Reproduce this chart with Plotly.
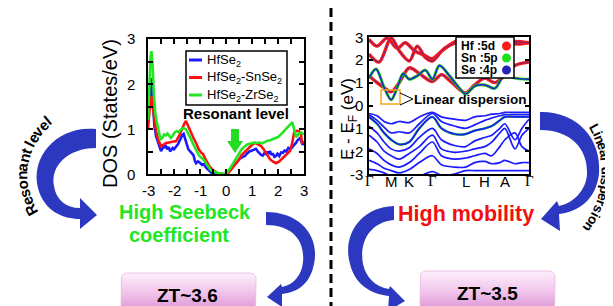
import math
import plotly.graph_objects as go

W, H = 613, 306
FONT = "Liberation Sans, Arial, sans-serif"

# ---------------- DOS data (States/eV) ----------------
E_blue = [-3.0,-2.95,-2.9,-2.88,-2.85,-2.8,-2.75,-2.69,-2.62,-2.55,-2.5,-2.45,-2.4,-2.35,-2.31,-2.26,-2.2,-2.15,-2.1,-2.05,-2.0,-1.92,-1.85,-1.75,-1.68,-1.63,-1.58,-1.52,-1.45,-1.38,-1.32,-1.25,-1.2,-1.15,-1.08,-1.0,-0.92,-0.85,-0.78,-0.7,-0.62,-0.55,-0.45,0.0,0.1,0.2,0.3,0.38,0.45,0.55,0.65,0.73,0.8,0.9,1.0,1.08,1.15,1.22,1.3,1.36,1.42,1.48,1.55,1.6,1.65,1.69,1.75,1.8,1.86,1.92,1.98,2.05,2.12,2.19,2.25,2.32,2.4,2.5,2.58,2.65,2.69,2.75,2.8,2.85,2.9,2.95,3.0]
dos_blue = [1.2,1.7,2.1,2.13,1.9,1.4,1.05,0.84,0.7,0.58,0.51,0.56,0.62,0.6,0.62,0.55,0.6,0.5,0.53,0.58,0.55,0.62,0.66,0.78,0.87,0.89,0.8,0.68,0.55,0.5,0.45,0.42,0.3,0.24,0.28,0.25,0.2,0.22,0.15,0.1,0.05,0.02,0.0,0.0,0.05,0.12,0.18,0.24,0.3,0.35,0.38,0.4,0.45,0.5,0.52,0.55,0.56,0.5,0.45,0.42,0.41,0.47,0.44,0.5,0.45,0.51,0.42,0.46,0.38,0.4,0.45,0.4,0.48,0.47,0.52,0.5,0.58,0.56,0.62,0.66,0.69,0.75,0.78,0.8,0.72,0.65,0.7]

E_red = [-3.0,-2.95,-2.9,-2.87,-2.82,-2.76,-2.69,-2.6,-2.5,-2.4,-2.31,-2.2,-2.12,-2.0,-1.92,-1.8,-1.7,-1.6,-1.54,-1.48,-1.4,-1.35,-1.25,-1.15,-1.05,-0.95,-0.88,-0.78,-0.65,-0.5,-0.35,-0.2,0.05,0.2,0.38,0.5,0.6,0.7,0.77,0.9,1.0,1.12,1.2,1.35,1.45,1.55,1.69,1.8,1.92,2.05,2.19,2.3,2.46,2.55,2.62,2.7,2.8,2.88,2.92,3.0]
dos_red = [1.0,1.4,1.7,1.73,1.5,1.2,0.95,0.75,0.62,0.65,0.69,0.7,0.71,0.72,0.73,0.85,1.0,1.12,1.18,1.1,1.0,0.91,0.8,0.69,0.55,0.47,0.44,0.32,0.18,0.08,0.03,0.0,0.0,0.1,0.22,0.32,0.42,0.48,0.51,0.6,0.65,0.69,0.66,0.62,0.55,0.45,0.33,0.28,0.24,0.28,0.36,0.42,0.51,0.7,0.92,0.96,0.95,0.9,0.7,0.72]

E_green = [-3.0,-2.95,-2.9,-2.87,-2.82,-2.78,-2.72,-2.66,-2.6,-2.55,-2.5,-2.45,-2.38,-2.31,-2.25,-2.18,-2.12,-2.05,-1.98,-1.9,-1.82,-1.75,-1.65,-1.55,-1.45,-1.35,-1.25,-1.15,-1.05,-0.95,-0.88,-0.78,-0.68,-0.58,-0.45,-0.3,-0.1,0.0,0.15,0.3,0.4,0.5,0.6,0.7,0.8,0.9,1.0,1.1,1.2,1.3,1.4,1.5,1.6,1.7,1.8,1.9,2.0,2.1,2.2,2.3,2.4,2.5,2.55,2.6,2.65,2.7,2.75,2.8,2.9,3.0]
dos_green = [1.2,2.0,2.6,2.73,2.4,1.8,1.35,1.15,0.95,0.85,0.78,0.8,0.88,0.86,0.9,0.84,0.8,0.85,0.92,0.95,0.93,0.98,1.02,1.0,0.9,0.78,0.65,0.52,0.42,0.36,0.33,0.25,0.15,0.08,0.05,0.02,0.0,0.0,0.12,0.25,0.35,0.45,0.55,0.6,0.65,0.67,0.68,0.7,0.69,0.7,0.68,0.72,0.74,0.75,0.78,0.8,0.82,0.87,0.93,1.0,1.05,1.12,1.15,1.05,0.9,0.82,0.85,0.9,0.92,0.88]

dos_names = ["HfSe<sub>2</sub>", "HfSe<sub>2</sub>-SnSe<sub>2</sub>", "HfSe<sub>2</sub>-ZrSe<sub>2</sub>"]
dos_colors = ["#1a1aff", "#ff1010", "#22e622"]
dos_xticks = [-3, -2, -1, 0, 1, 2, 3]
dos_yticks = [0, 1, 2, 3]

# ---------------- band structure (E - E_F, eV) ----------------
kpos = [0, 22, 40, 63, 96, 115, 135, 159]
klabels = ["Γ", "M", "K", "Γ", "L", "H", "A", "Γ"]
band_yticks = [-3, -2, -1, 0, 1, 2, 3]

cb_top1_k = [0, 8, 18, 28, 36, 45, 55, 63, 70, 80, 90, 98]
cb_top1_E = [2.9, 2.6, 2.95, 2.5, 2.75, 2.4, 2.2, 2.05, 2.3, 2.65, 2.9, 3.05]
cb_top2_k = [0, 10, 22, 30, 40, 48, 56, 63, 75, 90, 105, 115, 125, 135, 145, 159]
cb_top2_E = [2.25, 1.9, 2.95, 2.4, 1.95, 2.6, 2.1, 1.95, 2.5, 2.75, 2.2, 2.0, 2.3, 2.85, 2.7, 2.75]
cb_mid_k = [0, 8, 16, 22, 30, 40, 50, 63, 72, 80, 90, 96, 105, 115, 125, 135, 145, 159]
cb_mid_E = [1.3, 1.0, 0.75, 0.6, 1.0, 1.65, 1.4, 1.05, 1.35, 1.1, 0.7, 0.55, 0.9, 1.2, 1.0, 1.3, 1.75, 1.9]
cb_low_k = [0, 7, 15, 22, 29, 34, 40, 48, 56, 63, 70, 80, 90, 96, 105, 115, 125, 135, 145, 159]
cb_low_E = [1.2, 1.6, 0.8, 0.25, 0.9, 1.4, 1.15, 1.3, 1.55, 1.15, 1.75, 1.3, 0.75, 0.5, 0.85, 0.9, 0.75, 1.35, 1.2, 1.15]
cb_right_k = [96, 105, 115, 125, 135, 145, 159]
cb_right_E = [1.7, 2.1, 2.5, 2.9, 2.75, 2.8, 2.75]

vb_k = [0, 8, 15, 22, 30, 40, 50, 63, 72, 85, 96, 105, 115, 122, 130, 135, 145, 152, 159]
vb_1 = [-0.35, -0.45, -0.7, -0.8, -0.7, -0.75, -0.5, -0.3, -0.5, -0.6, -0.65, -0.5, -0.45, -0.38, -0.35, -0.3, -0.3, -0.3, -0.3]
vb_2 = [-0.4, -0.65, -0.95, -1.2, -1.15, -1.2, -0.8, -0.35, -0.7, -0.9, -1.0, -0.85, -0.65, -0.55, -0.45, -0.4, -0.4, -0.4, -0.4]
vb_3 = [-0.5, -0.8, -1.2, -1.5, -1.7, -1.6, -1.0, -0.5, -1.0, -1.25, -1.25, -1.1, -1.0, -0.9, -0.65, -0.5, -0.5, -0.5, -0.5]
vb_4 = [-0.9, -1.2, -1.6, -1.9, -2.0, -1.85, -1.4, -1.0, -1.5, -1.75, -1.8, -1.55, -1.4, -1.3, -1.0, -0.8, -1.5, -1.0, -0.6]
vb_5 = [-1.3, -1.6, -2.0, -2.2, -2.35, -2.1, -1.8, -1.3, -1.9, -2.05, -2.0, -1.9, -1.8, -1.6, -1.2, -1.0, -1.9, -1.3, -1.0]
vb_6 = [-1.9, -2.1, -2.4, -2.6, -2.7, -2.5, -2.1, -1.6, -2.2, -2.35, -2.3, -2.2, -2.1, -2.2, -1.8, -1.5, -1.2, -1.8, -2.0]
vb_7 = [-2.4, -2.55, -2.75, -2.85, -2.95, -2.8, -2.5, -2.2, -2.6, -2.7, -2.7, -2.5, -2.45, -2.55, -2.5, -2.4, -2.55, -2.5, -2.5]
vb_8 = [-2.8, -2.85, -2.95, -3.1, -3.2, -3.2, -3.1, -2.9, -3.05, -3.0, -2.85, -2.85, -2.85, -2.85, -2.85, -2.85, -2.85, -2.85, -2.85]
valence_bands = [vb_1, vb_2, vb_3, vb_4, vb_5, vb_6, vb_7, vb_8]

orb_names = ["Hf :5d", "Sn :5p", "Se :4p"]
orb_colors = ["#ff1a1a", "#1ee01e", "#2424b8"]

zt_labels = ["ZT~3.6", "ZT~3.5"]

fig = go.Figure()

# DOS curves
for xs, ys, c in [(E_blue, dos_blue, dos_colors[0]), (E_red, dos_red, dos_colors[1]), (E_green, dos_green, dos_colors[2])]:
    fig.add_trace(go.Scatter(x=xs, y=ys, mode="lines", line=dict(color=c, width=2.6),
                             xaxis="x", yaxis="y", showlegend=False, hoverinfo="skip"))

# band structure
def band(k, e, color, width):
    fig.add_trace(go.Scatter(x=k, y=e, mode="lines", line=dict(color=color, width=width, shape="spline", smoothing=0.9),
                             xaxis="x2", yaxis="y2", showlegend=False, hoverinfo="skip"))

band(vb_k, vb_3, "#18c818", 2.4)
for vb in valence_bands:
    band(vb_k, vb, "#1b1bff", 1.7)
for k, e in [(cb_top1_k, cb_top1_E), (cb_top2_k, cb_top2_E), (cb_mid_k, cb_mid_E), (cb_right_k, cb_right_E)]:
    band(k, e, "#ff1a1a", 3.4)
    band(k, e, "#3a2aa0", 0.8)
band(cb_low_k, cb_low_E, "#18c818", 3.0)
band(cb_low_k, cb_low_E, "#2020d0", 1.4)

# ---------------- decorative layer in pixel coordinates ----------------
def rounded_rect(x0, y0, x1, y1, r, n=8):
    xs, ys = [], []
    corners = [(x1 - r, y0 + r, -90, 0), (x1 - r, y1 - r, 0, 90), (x0 + r, y1 - r, 90, 180), (x0 + r, y0 + r, 180, 270)]
    for cx, cy, a0, a1 in corners:
        for i in range(n + 1):
            a = math.radians(a0 + (a1 - a0) * i / n)
            xs.append(cx + r * math.cos(a))
            ys.append(cy + r * math.sin(a))
    xs.append(xs[0]); ys.append(ys[0])
    return xs, ys

for (bx0, by0, bx1, by1) in [(113, 265, 248, 306), (412, 263, 547, 306)]:
    xs, ys = rounded_rect(bx0, by0, bx1, by1, 6)
    fig.add_trace(go.Scatter(x=xs, y=ys, mode="lines", fill="toself", line=dict(color="#e6b8e0", width=0.8),
                             fillgradient=dict(type="vertical", start=by0, stop=by1,
                                               colorscale=[[0, "#fcf0fb"], [0.5, "#f0c2ea"], [1, "#d88bd1"]]),
                             xaxis="x3", yaxis="y3", showlegend=False, hoverinfo="skip"))

shapes = []
shapes.append(dict(type="line", xref="x3", yref="y3", x0=323, x1=323, y0=0, y1=306,
                   line=dict(color="black", width=3, dash="9px,5px")))
arrow_color = "#2c38c0"
arrow_paths = [
    "M 88,121 C 50,117 22,148 30,180 C 36,203 55,211 72,211 L 72,221 L 89,207 L 72,190 L 72,200 C 58,200 48,192 46,178 C 42,158 60,140 88,140 Z",
    "M 258,204 C 292,204 312,228 306,256 C 302,276 290,284 274,286 L 274,299 L 259,289 L 273,276 L 274,279 C 286,277 294,266 295,254 C 297,232 284,217 258,217 Z",
    "M 532,104 C 568,103 594,130 591,166 C 588,192 570,204 551,206 L 552,223 L 533,211 L 549,193 L 551,198 C 565,195 578,183 579,166 C 580,140 562,122 532,122 Z",
    "M 386,198 C 352,199 334,228 342,256 C 347,276 362,286 381,288 L 380,303 L 397,293 L 382,278 L 381,281 C 368,279 358,270 355,256 C 351,234 362,214 386,212 Z",
]
for p in arrow_paths:
    shapes.append(dict(type="path", xref="x3", yref="y3", path=p, fillcolor=arrow_color, line=dict(width=0)))
shapes.append(dict(type="path", xref="x3", yref="y3",
                   path="M 223,121 L 231,121 L 231,133 L 235,133 L 227,145 L 219,133 L 223,133 Z",
                   fillcolor="#22dd22", line=dict(width=0)))
shapes.append(dict(type="rect", xref="x3", yref="y3", x0=178, x1=279, y0=43, y1=97,
                   fillcolor="white", line=dict(color="black", width=1.5)))
for i, c in enumerate(dos_colors):
    yy = 52 + 17.5 * i
    shapes.append(dict(type="line", xref="x3", yref="y3", x0=181, x1=194, y0=yy, y1=yy, line=dict(color=c, width=3)))
shapes.append(dict(type="rect", xref="x3", yref="y3", x0=448, x1=506, y0=29, y1=70,
                   fillcolor="white", line=dict(color="black", width=1.5)))
for i, c in enumerate(orb_colors):
    yy = 38 + 12 * i
    shapes.append(dict(type="circle", xref="x3", yref="y3", x0=494, x1=503, y0=yy - 4.5, y1=yy + 4.5,
                       fillcolor=c, line=dict(width=0)))
shapes.append(dict(type="rect", xref="x3", yref="y3", x0=373, x1=392, y0=82, y1=96,
                   line=dict(color="#f5a623", width=1.5)))
shapes.append(dict(type="path", xref="x3", yref="y3", path="M 392,85 L 405,91 L 392,97",
                   line=dict(color="black", width=1)))

ann = []
def txt(x, y, s, size, color="black", bold=False, angle=0, xanchor="center", xref="x3", yref="y3"):
    ann.append(dict(x=x, y=y, xref=xref, yref=yref, text=("<b>%s</b>" % s) if bold else s, showarrow=False,
                    textangle=angle, xanchor=xanchor, yanchor="middle",
                    font=dict(family=FONT, size=size, color=color)))

# tick labels
for v in dos_xticks:
    txt(v, 182, str(v), 15, xref="x")
for v in dos_yticks:
    txt(129, v, str(v), 15, xref="x3", yref="y", xanchor="right")
for k, lab in zip(kpos, klabels):
    if lab == "Γ":
        lab = '<span style="font-family:Liberation Serif">Γ</span>'
    txt(k, 173, lab, 15, xref="x2")
for v in band_yticks:
    txt(357, v, str(v), 15, xref="x3", yref="y2", xanchor="right")

txt(102, 106, "DOS (States/eV)", 20, angle=-90)
txt(341, 111, "E - E<sub>F</sub> (eV)", 17, angle=-90)
for i, nm in enumerate(dos_names):
    txt(197, 52 + 17.5 * i, nm, 13, xanchor="left")
for i, nm in enumerate(orb_names):
    txt(451, 38 + 12 * i, nm, 12, bold=True, xanchor="left")
txt(228, 105, "Resonant level", 15, bold=True)
txt(462, 91, "Linear dispersion", 13.5, bold=True)
txt(177, 204, "High Seebeck", 20, color="#22e622", bold=True)
txt(171, 227, "coefficient", 20, color="#22e622", bold=True)
txt(458, 206, "High mobility", 21.5, color="#f01010", bold=True)
txt(179, 287, zt_labels[0], 19, bold=True)
txt(479, 285, zt_labels[1], 19, bold=True)

BW = {'R': 722, 'e': 556, 's': 556, 'o': 611, 'n': 611, 'a': 556, 't': 333, ' ': 278, 'l': 278,
      'v': 556, 'L': 611, 'i': 278, 'r': 389, 'd': 611, 'p': 611}

def arc_text(text, cx, cy, r, phi_mid, size):
    widths = [BW[c] / 1000 * size for c in text]
    s = -sum(widths) / 2
    for c, w in zip(text, widths):
        phi = math.radians(phi_mid) + (s + w / 2) / r
        s += w
        if c == " ":
            continue
        x = cx + r * math.cos(phi)
        y = cy + r * math.sin(phi)
        ang = math.degrees(math.atan2(math.cos(phi), -math.sin(phi)))
        txt(x, y, c, size, bold=True, angle=ang)

arc_text("Resonant level", 84, 167, 70, 189, 15)
arc_text("Linear dispersion", 506, 164, 92, 4, 13.5)

frame = dict(showgrid=False, zeroline=False, showline=True, linecolor="black", linewidth=2,
             mirror="ticks", ticks="inside", tickcolor="black", tickwidth=1.5, showticklabels=False)

fig.update_layout(
    width=W, height=H, margin=dict(l=0, r=0, t=0, b=0),
    paper_bgcolor="white", plot_bgcolor="rgba(0,0,0,0)",
    showlegend=False, shapes=shapes, annotations=ann,
    xaxis=dict(domain=[140 / W, 296 / W], range=[-3, 3], anchor="y", **frame, ticklen=5,
               tickvals=[v / 2 for v in range(-6, 7)]),
    yaxis=dict(domain=[1 - 166 / H, 1 - 31 / H], range=[0, 3], anchor="x", **frame, ticklen=5,
               tickvals=[v / 2 for v in range(0, 7)]),
    xaxis2=dict(domain=[361 / W, 521 / W], range=[0, 159], anchor="y2", showgrid=False, zeroline=False,
                showline=True, linecolor="black", linewidth=2, mirror=True, ticks="", showticklabels=False),
    yaxis2=dict(domain=[1 - 166 / H, 1 - 29 / H], range=[-3, 3], anchor="x2", **frame, ticklen=4,
                tickvals=band_yticks),
    xaxis3=dict(domain=[0, 1], range=[0, W], anchor="y3", visible=False, fixedrange=True),
    yaxis3=dict(domain=[0, 1], range=[H, 0], anchor="x3", visible=False, fixedrange=True),
)

fig.write_html("out.html")
